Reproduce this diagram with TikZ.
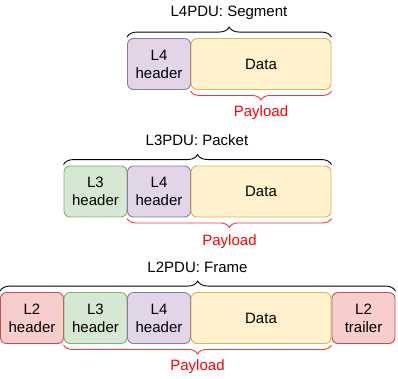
\documentclass[tikz,border=0pt]{standalone}
\usepackage{fontspec}
\setmainfont{Liberation Sans}
\usetikzlibrary{decorations.pathreplacing}
\definecolor{redF}{HTML}{F8CECC}\definecolor{redD}{HTML}{B85450}
\definecolor{grnF}{HTML}{D5E8D4}\definecolor{grnD}{HTML}{82B366}
\definecolor{purF}{HTML}{E1D5E7}\definecolor{purD}{HTML}{9673A6}
\definecolor{ylwF}{HTML}{FFF2CC}\definecolor{ylwD}{HTML}{D6B656}
\definecolor{payred}{HTML}{FF0000}
\definecolor{bracered}{HTML}{FF3333}
\begin{document}
\begin{tikzpicture}[x=1pt,y=-1pt,
  every node/.style={font=\fontsize{15}{18}\selectfont, align=center},
  box/.style={draw, rounded corners=6pt, line width=0.9pt, minimum height=51pt, inner sep=0pt},
  narrow/.style={box, minimum width=63pt, text width=60pt},
  wide/.style={box, minimum width=140pt},
  l2/.style={narrow, fill=redF, draw=redD},
  l3/.style={narrow, fill=grnF, draw=grnD},
  l4/.style={narrow, fill=purF, draw=purD},
  dat/.style={wide, fill=ylwF, draw=ylwD},
  topbrace/.style={decorate, decoration={brace, amplitude=10pt}, line width=0.9pt, draw=black},
  paybrace/.style={decorate, decoration={brace, mirror, amplitude=9pt}, line width=0.9pt, draw=bracered},
  title/.style={text=black},
  pay/.style={text=payred}]
\useasboundingbox (0,0) rectangle (398,378);
% Row 1
\node[l4] (a4) at (159,64) {L4\\header};
\node[dat] (ad) at (261,64) {Data};
\draw[topbrace] ([yshift=1pt]a4.north west) -- ([yshift=1pt]ad.north east) coordinate[midway] (atip);
\node[title] (at) at (229,13) {L4PDU: Segment};
\draw[paybrace] ([yshift=-1pt]ad.south west) -- ([yshift=-1pt]ad.south east);
\node[pay] (ap) at (261,113) {Payload};
% Row 2
\node[l3] (b3) at (95.5,191.5) {L3\\header};
\node[l4] (b4) at (159,191.5) {L4\\header};
\node[dat] (bd) at (261,191.5) {Data};
\draw[topbrace] ([yshift=1pt]b3.north west) -- ([yshift=1pt]bd.north east);
\node[title] (bt) at (197,140) {L3PDU: Packet};
\draw[paybrace] ([yshift=-1pt]b4.south west) -- ([yshift=-1pt]bd.south east);
\node[pay] (bp) at (229.5,242) {Payload};
% Row 3
\node[l2] (c2) at (32,318) {L2\\header};
\node[l3] (c3) at (95.5,318) {L3\\header};
\node[l4] (c4) at (159,318) {L4\\header};
\node[dat] (cd) at (261,318) {Data};
\node[l2] (ct) at (363.5,318) {L2\\trailer};
\draw[topbrace] ([yshift=1pt]c2.north west) -- ([yshift=1pt]ct.north east);
\node[title] (ctt) at (197.5,267) {L2PDU: Frame};
\draw[paybrace] ([yshift=-1pt]c3.south west) -- ([yshift=-1pt]cd.south east);
\node[pay] (cp) at (197.5,367) {Payload};
\end{tikzpicture}
\end{document}
